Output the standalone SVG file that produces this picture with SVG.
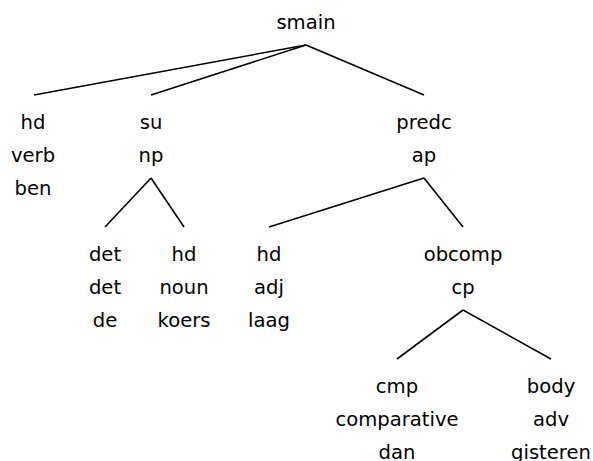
<svg xmlns="http://www.w3.org/2000/svg" width="593" height="461" viewBox="0 0 593 461">
<style>
text{font-family:"DejaVu Sans",sans-serif;font-size:19.6px;fill:#000;text-anchor:middle}
.e{stroke:#000;stroke-width:1.6;fill:none}
</style>
<rect width="593" height="461" fill="#fff"/>
<g id="connectors">
<line class="e" x1="306" y1="45" x2="34" y2="95"/>
<line class="e" x1="306" y1="45" x2="151" y2="95"/>
<line class="e" x1="306" y1="45" x2="424" y2="95"/>
<line class="e" x1="151" y1="178" x2="105" y2="227"/>
<line class="e" x1="151" y1="178" x2="184" y2="227"/>
<line class="e" x1="424" y1="178" x2="269" y2="227"/>
<line class="e" x1="424" y1="178" x2="463" y2="227"/>
<line class="e" x1="463" y1="310" x2="397" y2="359"/>
<line class="e" x1="463" y1="310" x2="551" y2="359"/>
</g>
<g id="smain"><text x="306" y="29">smain</text></g>
<g id="hd-verb"><text x="33" y="129">hd</text><text x="33" y="162">verb</text><text x="33" y="195">ben</text></g>
<g id="su-np"><text x="151" y="129">su</text><text x="151" y="162">np</text></g>
<g id="predc-ap"><text x="424" y="129">predc</text><text x="424" y="162">ap</text></g>
<g id="det"><text x="105" y="261">det</text><text x="105" y="294">det</text><text x="105" y="327">de</text></g>
<g id="hd-noun"><text x="184" y="261">hd</text><text x="184" y="294">noun</text><text x="184" y="327">koers</text></g>
<g id="hd-adj"><text x="269" y="261">hd</text><text x="269" y="294">adj</text><text x="269" y="327">laag</text></g>
<g id="obcomp-cp"><text x="463" y="261">obcomp</text><text x="463" y="294">cp</text></g>
<g id="cmp"><text x="397" y="393">cmp</text><text x="397" y="426">comparative</text><text x="397" y="459">dan</text></g>
<g id="body"><text x="551" y="393">body</text><text x="551" y="426">adv</text><text x="551" y="459">gisteren</text></g>
</svg>
